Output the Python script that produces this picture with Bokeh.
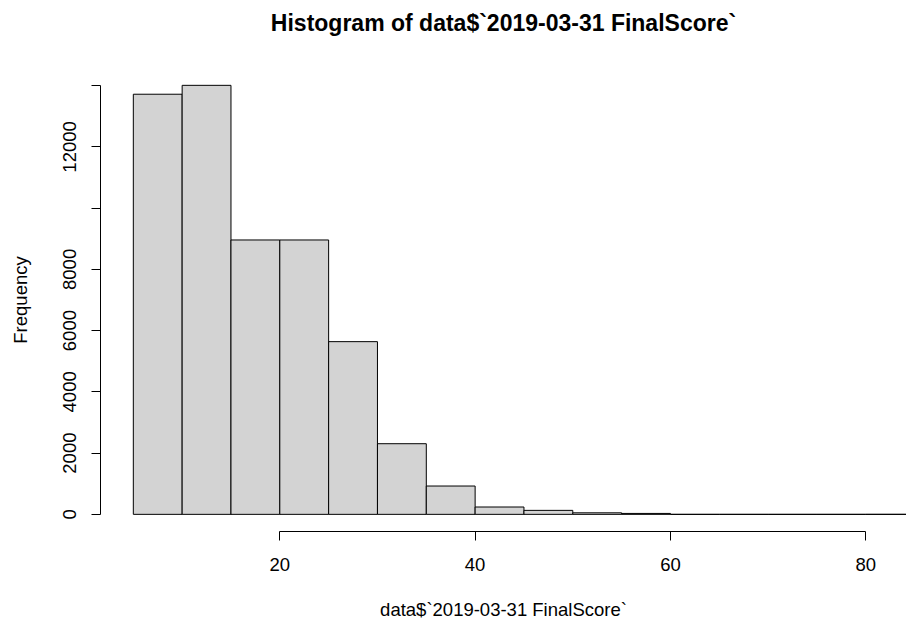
from bokeh.plotting import figure
from bokeh.models import Range1d, FixedTicker, ColumnDataSource, Title, LinearAxis
from bokeh.embed import file_html
from bokeh.resources import INLINE

# Histogram bins (width 5) and counts
bin_left = [5, 10, 15, 20, 25, 30, 35, 40, 45, 50, 55, 60, 65, 70, 75, 80]
bin_right = [10, 15, 20, 25, 30, 35, 40, 45, 50, 55, 60, 65, 70, 75, 80, 85]
counts = [13720, 14010, 8960, 8960, 5640, 2307, 925, 240, 130, 50, 30, 0, 0, 0, 0, 1]

x_ticks = [20, 40, 60, 80]
y_ticks = [0, 2000, 4000, 6000, 8000, 10000, 12000, 14000]
y_hidden = [10000, 14000]

title_text = "Histogram of data$`2019-03-31 FinalScore`"
x_label = "data$`2019-03-31 FinalScore`"
y_label = "Frequency"

FONT = "Liberation Sans"
FS = "18.5px"

p = figure(width=906, height=628, output_backend="svg", toolbar_location=None,
           x_range=Range1d(1.64, 84.17), y_range=Range1d(-560, 14560),
           min_border_left=100, min_border_right=0, min_border_top=68, min_border_bottom=97)

# grab the figure's own axes before any extra panel is added
xa = p.below[0]
ya = p.left[0]

src = ColumnDataSource(dict(left=bin_left, right=bin_right, top=counts, bottom=[0] * len(counts)))
p.quad(left="left", right="right", top="top", bottom="bottom", source=src,
       fill_color="#D3D3D3", line_color="black", line_width=1)

p.background_fill_color = "white"
p.border_fill_color = "white"
p.outline_line_color = None
p.grid.visible = False

xa.ticker = FixedTicker(ticks=x_ticks)
xa.bounds = (x_ticks[0], x_ticks[-1])
ya.ticker = FixedTicker(ticks=y_ticks)
ya.bounds = (y_ticks[0], y_ticks[-1])
ya.axis_label = y_label
ya.major_label_orientation = "vertical"
ya.major_label_overrides = {v: "" for v in y_hidden}

for ax in (xa, ya):
    ax.axis_line_color = "black"
    ax.axis_line_width = 1
    ax.major_tick_line_color = "black"
    ax.major_tick_out = 9
    ax.major_tick_in = 0
    ax.minor_tick_line_color = None
    ax.major_label_text_font = FONT
    ax.major_label_text_font_size = FS
    ax.major_label_text_color = "black"
    ax.axis_label_text_font = FONT
    ax.axis_label_text_font_size = FS
    ax.axis_label_text_font_style = "normal"
    ax.axis_label_text_color = "black"

xa.major_label_standoff = 17
ya.major_label_standoff = 15
ya.axis_label_standoff = 30

spacer_tick = bin_left[0]


def spacer(size):
    # white, label-less axis: only empty room between panels
    return LinearAxis(ticker=FixedTicker(ticks=[spacer_tick]), axis_line_color=None,
                      major_tick_line_color="white", minor_tick_line_color=None,
                      major_tick_out=size, major_tick_in=0, minor_tick_out=0,
                      major_label_overrides={spacer_tick: ""},
                      major_label_text_font_size="1px",
                      major_label_standoff=0, axis_label_standoff=0)


# above: spacer next to the frame, then the main title
p.add_layout(spacer(33), "above")
p.add_layout(Title(text=title_text, align="center", offset=12, standoff=0,
                   vertical_align="bottom",
                   text_font=FONT, text_font_size="23px", text_font_style="bold",
                   text_color="black"), "above")

# below: x axis, spacer, then the x label
p.add_layout(spacer(23), "below")
p.add_layout(Title(text=x_label, align="center", offset=18, standoff=0,
                   vertical_align="bottom",
                   text_font=FONT, text_font_size=FS, text_font_style="normal",
                   text_color="black"), "below")

open("out.html", "w").write(file_html(p, INLINE))
